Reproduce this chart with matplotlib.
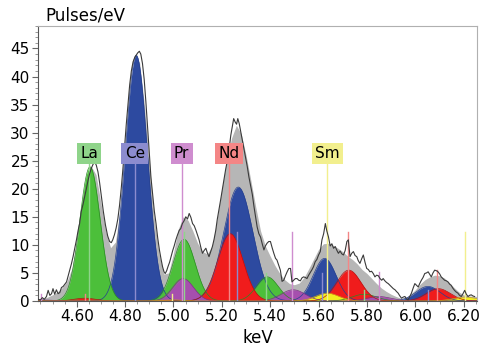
import numpy as np
import matplotlib.pyplot as plt
from matplotlib.ticker import MultipleLocator

# measured spectrum (black trace), keV / pulses per eV
spec_kev = [4.440, 4.450, 4.458, 4.466, 4.475, 4.482, 4.489, 4.496, 4.502, 4.509,
            4.516, 4.523, 4.530, 4.537, 4.544, 4.551, 4.558, 4.565, 4.571, 4.578,
            4.585, 4.592, 4.599, 4.606, 4.612, 4.619, 4.626, 4.633, 4.640, 4.647,
            4.653, 4.660, 4.667, 4.674, 4.681, 4.688, 4.695, 4.702, 4.710, 4.719,
            4.728, 4.736, 4.743, 4.749, 4.756, 4.763, 4.770, 4.777, 4.784, 4.791,
            4.798, 4.805, 4.812, 4.819, 4.826, 4.833, 4.840, 4.846, 4.852, 4.859,
            4.865, 4.872, 4.879, 4.886, 4.893, 4.900, 4.907, 4.914, 4.921, 4.928,
            4.935, 4.942, 4.949, 4.955, 4.961, 4.966, 4.972, 4.978, 4.984, 4.990,
            4.997, 5.003, 5.010, 5.017, 5.024, 5.030, 5.037, 5.044, 5.051, 5.058,
            5.065, 5.072, 5.079, 5.086, 5.093, 5.099, 5.106, 5.113, 5.120, 5.127,
            5.134, 5.140, 5.147, 5.154, 5.161, 5.168, 5.175, 5.181, 5.188, 5.195,
            5.202, 5.209, 5.216, 5.223, 5.230, 5.237, 5.243, 5.249, 5.255, 5.261,
            5.266, 5.272, 5.279, 5.285, 5.292, 5.298, 5.305, 5.312, 5.319, 5.326,
            5.333, 5.340, 5.346, 5.353, 5.360, 5.367, 5.374, 5.380, 5.387, 5.394,
            5.401, 5.408, 5.415, 5.422, 5.428, 5.435, 5.442, 5.449, 5.456, 5.463,
            5.470, 5.477, 5.484, 5.490, 5.497, 5.504, 5.511, 5.518, 5.525, 5.531,
            5.538, 5.545, 5.552, 5.559, 5.566, 5.573, 5.579, 5.586, 5.593, 5.600,
            5.607, 5.614, 5.621, 5.628, 5.634, 5.641, 5.648, 5.655, 5.662, 5.669,
            5.676, 5.682, 5.689, 5.696, 5.703, 5.710, 5.717, 5.723, 5.730, 5.737,
            5.744, 5.751, 5.758, 5.764, 5.771, 5.778, 5.785, 5.792, 5.799, 5.806,
            5.812, 5.819, 5.826, 5.833, 5.840, 5.847, 5.854, 5.861, 5.867, 5.874,
            5.881, 5.888, 5.895, 5.902, 5.909, 5.916, 5.922, 5.929, 5.936, 5.943,
            5.950, 5.957, 5.963, 5.970, 5.977, 5.984, 5.991, 5.998, 6.005, 6.012,
            6.018, 6.025, 6.032, 6.039, 6.046, 6.053, 6.060, 6.066, 6.073, 6.080,
            6.087, 6.094, 6.101, 6.107, 6.114, 6.121, 6.128, 6.135, 6.142, 6.148,
            6.155, 6.162, 6.169, 6.176, 6.183, 6.190, 6.197, 6.204, 6.211, 6.218,
            6.224, 6.231, 6.238, 6.245]
spec_counts = [0.3, 0.2, 0.6, 0.3, 0.8, 1.9, 1.0, 1.3, 2.2, 1.2,
               2.0, 1.3, 1.5, 2.4, 2.6, 3.0, 3.4, 4.5, 5.5, 6.6,
               7.9, 9.4, 10.9, 12.6, 13.8, 16.0, 17.2, 18.6, 20.0, 21.5,
               22.6, 23.6, 24.3, 24.8, 24.2, 23.0, 21.0, 18.6, 16.0, 13.5,
               11.6, 10.6, 10.4, 10.9, 11.8, 13.0, 14.6, 17.0, 20.0, 23.5,
               27.5, 31.5, 35.0, 38.5, 41.0, 42.6, 43.4, 43.8, 44.2, 44.5,
               44.0, 42.3, 39.5, 35.5, 31.0, 26.5, 22.0, 19.0, 16.0, 13.8,
               11.2, 9.1, 7.4, 6.1, 5.2, 4.9, 5.4, 6.2, 6.9, 7.9,
               9.0, 9.8, 10.9, 11.8, 12.6, 12.9, 13.8, 14.3, 15.0, 14.6,
               15.6, 14.9, 13.8, 13.4, 12.6, 11.8, 10.9, 9.6, 8.5, 9.0,
               9.4, 8.6, 7.9, 8.8, 9.7, 11.0, 12.6, 14.5, 16.2, 18.0,
               19.8, 21.5, 23.5, 25.0, 27.0, 29.5, 31.0, 32.5, 31.9, 31.5,
               32.5, 31.6, 30.0, 28.6, 27.0, 25.7, 24.0, 22.1, 20.5, 19.0,
               16.8, 14.8, 13.2, 12.0, 11.4, 10.2, 9.1, 9.8, 10.3, 10.6,
               10.6, 9.5, 8.5, 7.6, 7.3, 6.4, 5.5, 3.5, 3.7, 4.5,
               5.2, 5.8, 5.8, 3.4, 3.7, 4.0, 4.0, 3.7, 3.6, 4.1,
               4.3, 4.2, 4.0, 4.6, 5.1, 5.6, 6.1, 7.0, 7.4, 8.2,
               8.8, 10.9, 12.0, 13.8, 12.5, 11.4, 9.8, 10.2, 9.4, 9.7,
               9.0, 8.5, 8.9, 8.4, 8.2, 9.0, 10.6, 10.9, 7.9, 8.5,
               8.8, 8.1, 7.9, 7.2, 6.7, 7.5, 8.2, 6.9, 5.8, 5.6,
               5.2, 5.3, 4.9, 4.3, 4.6, 4.5, 4.0, 3.7, 4.0, 3.6,
               3.3, 3.1, 2.8, 2.5, 2.2, 2.0, 1.7, 1.4, 0.9, 0.5,
               0.7, 0.8, 0.4, 0.2, 0.8, 1.4, 2.3, 3.1, 2.8, 2.5,
               3.1, 3.7, 4.2, 4.9, 5.0, 5.2, 4.7, 4.3, 5.0, 5.5,
               5.4, 5.2, 4.8, 4.3, 4.0, 3.7, 3.6, 3.4, 3.0, 2.8,
               2.3, 1.9, 1.6, 1.4, 1.0, 0.8, 1.3, 1.9, 1.2, 0.8,
               1.0, 1.1, 0.9, 0.8]

# total fit envelope (grey)
fit_kev = [4.44, 4.46, 4.48, 4.50, 4.52, 4.54, 4.56, 4.58, 4.60, 4.62,
           4.64, 4.66, 4.68, 4.70, 4.72, 4.74, 4.76, 4.78, 4.80, 4.82,
           4.84, 4.86, 4.88, 4.90, 4.92, 4.94, 4.96, 4.98, 5.00, 5.02,
           5.04, 5.06, 5.08, 5.10, 5.12, 5.14, 5.16, 5.18, 5.20, 5.22,
           5.24, 5.26, 5.28, 5.30, 5.32, 5.34, 5.36, 5.38, 5.40, 5.42,
           5.44, 5.46, 5.48, 5.50, 5.52, 5.54, 5.56, 5.58, 5.60, 5.62,
           5.64, 5.66, 5.68, 5.70, 5.72, 5.74, 5.76, 5.78, 5.80, 5.82,
           5.84, 5.86, 5.88, 5.90, 5.92, 5.94, 5.96, 5.98, 6.00, 6.02,
           6.04, 6.06, 6.08, 6.10, 6.12, 6.14, 6.16, 6.18, 6.20, 6.22, 6.255]
fit_counts = [0.2, 0.4, 0.7, 1.1, 1.6, 2.4, 3.5, 5.8, 10.5, 17.0,
              22.4, 24.0, 22.5, 17.5, 12.5, 9.5, 10.5, 16.5, 27.0, 38.0,
              43.8, 42.5, 35.0, 25.0, 15.0, 8.5, 4.8, 5.0, 8.5, 12.8,
              15.0, 14.4, 12.5, 10.3, 8.8, 8.4, 9.8, 14.5, 20.0, 25.0,
              29.0, 31.3, 29.8, 26.0, 21.5, 16.8, 12.5, 9.8, 8.0, 6.3,
              4.9, 3.8, 3.1, 2.9, 3.2, 4.2, 5.8, 7.5, 9.2, 10.2,
              10.3, 9.9, 9.4, 8.8, 8.0, 7.4, 6.6, 5.6, 4.9, 4.0,
              3.1, 2.3, 1.7, 1.2, 0.8, 0.5, 0.6, 1.2, 2.0, 3.0,
              3.8, 4.3, 4.6, 4.5, 4.1, 3.3, 2.4, 1.6, 1.1, 0.9, 0.8]

# fitted element peaks: element, centre (keV), height, width (sigma, keV)
peak_element = ['Ce', 'Ce', 'Ce', 'Ce',
                'La', 'La', 'La', 'La',
                'Nd', 'Nd', 'Nd', 'Nd',
                'Pr', 'Pr', 'Pr', 'Pr',
                'Sm', 'Sm', 'Sm']
peak_kev = [4.846, 5.268, 5.625, 6.052,
            4.655, 5.044, 5.388, 5.789,
            5.235, 5.725, 6.095, 4.633,
            5.040, 5.495, 5.849, 4.453,
            5.636, 6.205, 4.994]
peak_height = [43.8, 20.3, 7.6, 2.6,
               23.9, 11.0, 4.3, 1.2,
               12.0, 5.5, 2.2, 0.5,
               4.0, 2.0, 0.8, 0.2,
               1.4, 0.7, 0.2]
peak_width = [0.046, 0.060, 0.047, 0.050,
              0.042, 0.046, 0.045, 0.050,
              0.052, 0.050, 0.050, 0.045,
              0.043, 0.050, 0.050, 0.045,
              0.048, 0.050, 0.045]

# element lines (markers)
elements = ['La', 'Ce', 'Pr', 'Nd', 'Sm']
label_kev = [4.651, 4.840, 5.034, 5.230, 5.636]
line_element = ['La', 'La', 'La', 'La', 'Ce', 'Ce', 'Ce', 'Ce',
                'Pr', 'Pr', 'Pr', 'Pr', 'Nd', 'Nd', 'Nd', 'Nd',
                'Sm', 'Sm', 'Sm']
line_kev = [4.651, 5.042, 5.384, 5.789, 4.840, 5.262, 5.613, 6.052,
            5.034, 5.489, 5.849, 4.453, 5.230, 5.721, 6.089, 4.633,
            5.636, 6.205, 4.994]
line_top = [24.7, 12.3, 5.0, 2.0, 24.7, 12.3, 5.0, 2.0,
            24.7, 12.3, 5.2, 1.2, 24.7, 12.3, 5.5, 1.2,
            24.7, 12.3, 1.2]

fill_color = {'La': '#4cbf3a', 'Ce': '#2d4aa0', 'Pr': '#a64fae',
              'Nd': '#f01c1c', 'Sm': '#f2ee1e'}
edge_color = {'La': '#2c8a24', 'Ce': '#26408f', 'Pr': '#7c3184',
              'Nd': '#b80e0e', 'Sm': '#c9a21a'}
tag_color = {'La': '#8fd48a', 'Ce': '#8c8ccf', 'Pr': '#cf8dcf',
             'Nd': '#f48686', 'Sm': '#f2ef8e'}
draw_order = ['Ce', 'La', 'Nd', 'Pr', 'Sm']

fig = plt.figure(figsize=(4.82, 3.52), dpi=100)
ax = fig.add_axes([38/482, 1-301/352, 439/482, 275/352])

ax.fill_between(fit_kev, fit_counts, color='#b6b6b6', lw=0, zorder=1)

x = np.linspace(4.44, 6.255, 800)
curves = {}
for el in draw_order:
    y = np.zeros_like(x)
    for e, c, h, w in zip(peak_element, peak_kev, peak_height, peak_width):
        if e == el:
            y += h*np.exp(-0.5*((x-c)/w)**2)
    curves[el] = y
    ax.fill_between(x, y, color=fill_color[el], lw=0, zorder=2)
for el in draw_order:
    ax.plot(x, curves[el], color=edge_color[el], lw=0.5, zorder=3)

for e, k, t in zip(line_element, line_kev, line_top):
    ax.plot([k, k], [0, t], color=tag_color[e], lw=1.0, zorder=4)

ax.plot(spec_kev, spec_counts, color='#3a3a3a', lw=0.8, zorder=5)

for el, k in zip(elements, label_kev):
    ax.text(k, 26.3, el, ha='center', va='center', fontsize=11, zorder=6,
            bbox=dict(boxstyle='square,pad=0.22', fc=tag_color[el], ec='none'))

ax.set_ylim(0, 49)
ax.xaxis.set_major_locator(MultipleLocator(0.2))
ax.xaxis.set_minor_locator(MultipleLocator(0.05))
ax.yaxis.set_major_locator(MultipleLocator(5))
ax.yaxis.set_minor_locator(MultipleLocator(1))
ticks = [4.6, 4.8, 5.0, 5.2, 5.4, 5.6, 5.8, 6.0, 6.2]
ax.set_xticks(ticks)
ax.set_xticklabels(['%.2f' % v for v in ticks])
ax.set_xlim(4.44, 6.255)
ax.tick_params(axis='both', which='major', labelsize=11, length=4,
               color='#666666', pad=2)
ax.tick_params(axis='both', which='minor', length=2, color='#888888')
for s in ['left', 'bottom']:
    ax.spines[s].set_color('#555555')
for s in ['top', 'right']:
    ax.spines[s].set_color('#b0b0b0')

fig.text(45/482, 1-16/352, 'Pulses/eV', fontsize=12, va='center', ha='left')
fig.text(258/482, 1-338/352, 'keV', fontsize=12, va='center', ha='center')

fig.savefig('out.png', dpi=100)
